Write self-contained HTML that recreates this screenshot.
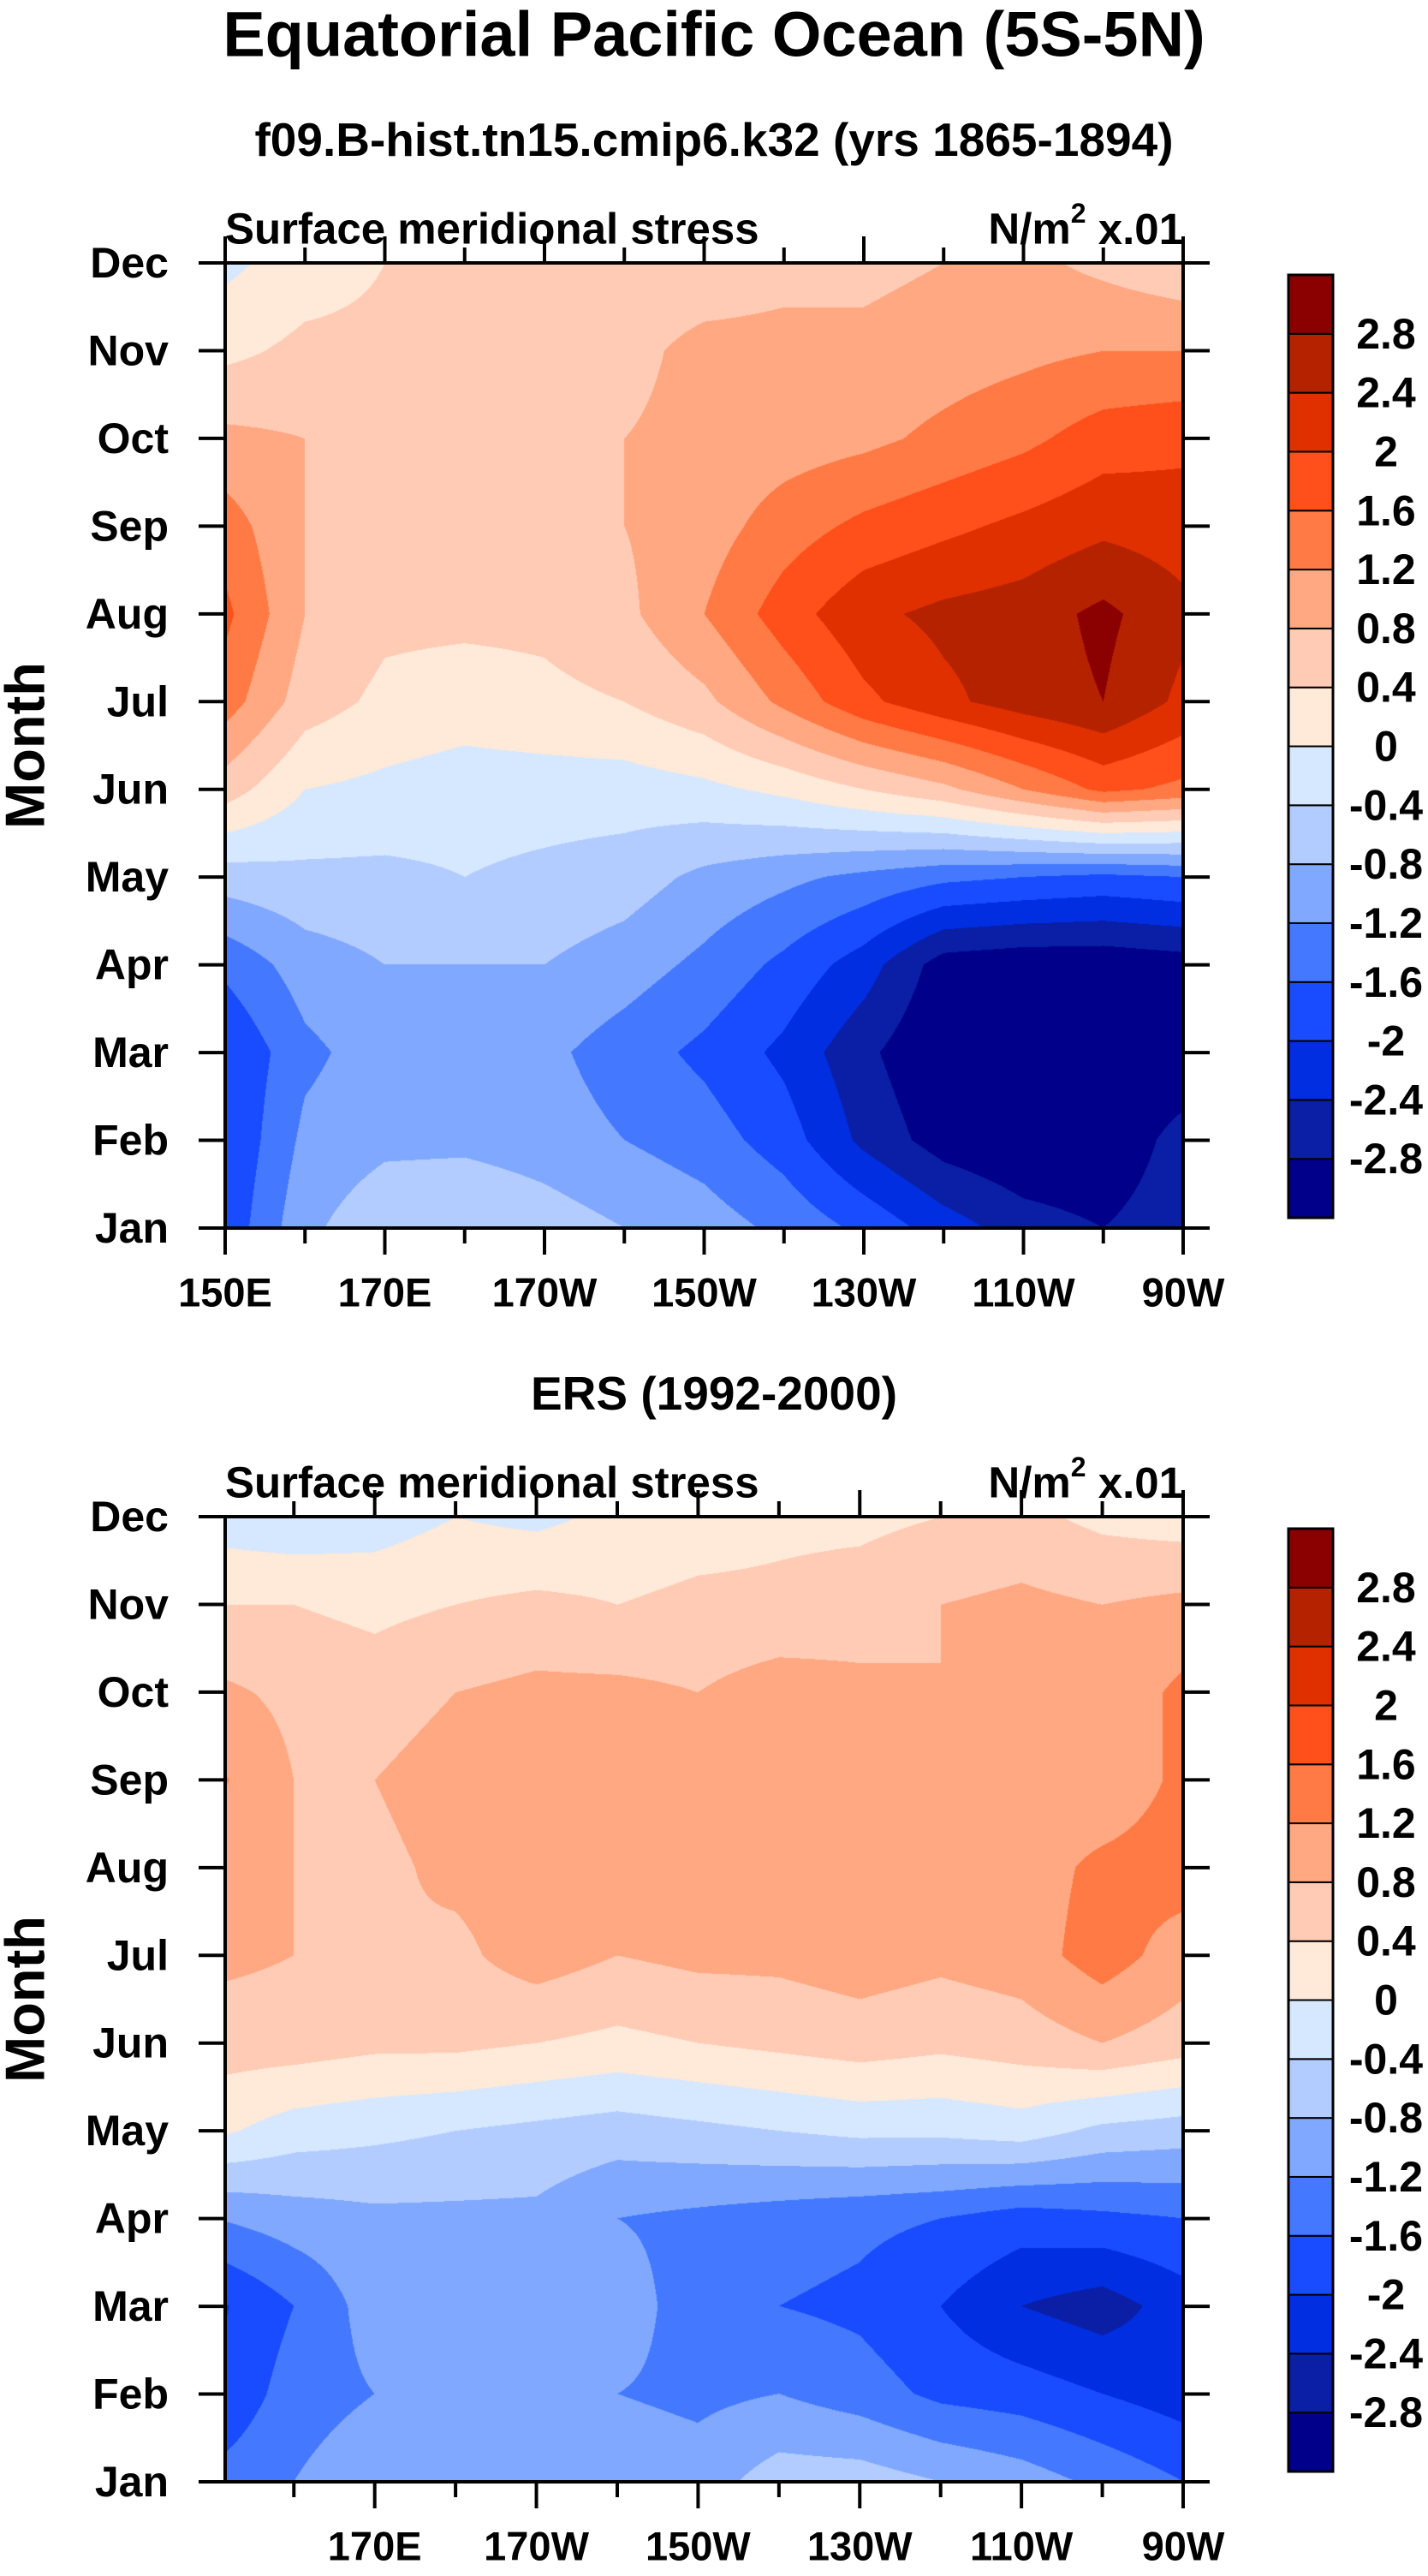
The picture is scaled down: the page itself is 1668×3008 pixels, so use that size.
<!DOCTYPE html>
<html><head><meta charset="utf-8">
<style>
html,body{margin:0;padding:0;background:#fff;}
body{width:1668px;height:3008px;position:relative;overflow:hidden;font-family:"Liberation Sans",sans-serif;}
canvas{position:absolute;}
svg{position:absolute;left:0;top:0;}
</style></head>
<body>
<canvas id="c1" width="1119" height="1127" style="left:263px;top:307px"></canvas>
<canvas id="c2" width="1119" height="1127" style="left:263px;top:1771px"></canvas>
<svg id="s" width="1668" height="3008"></svg>
<script>
const months=["Jan","Feb","Mar","Apr","May","Jun","Jul","Aug","Sep","Oct","Nov","Dec"];
const lons=[150,160,170,180,190,200,210,220,230,240,250,260,270];
const levels=[-2.8,-2.4,-2,-1.6,-1.2,-0.8,-0.4,0,0.4,0.8,1.2,1.6,2,2.4,2.8];
const levelLabels=["-2.8","-2.4","-2","-1.6","-1.2","-0.8","-0.4","0","0.4","0.8","1.2","1.6","2","2.4","2.8"];
const colors=["#00008a","#0a1fa5","#002ee0","#1a4cff","#4479ff","#80a8ff","#b3ccff","#d6e8ff","#ffe9d8","#ffcbb5","#ffa882","#ff7a45","#ff4f1a","#e03000","#b52200","#8b0000"];
const model=[
[-1.9,-0.9,-0.5,-0.4,-0.6,-0.8,-1.0,-1.3,-1.7,-2.2,-2.6,-2.8,-2.5],
[-2.0,-1.1,-0.9,-0.9,-1.0,-1.2,-1.4,-1.8,-2.5,-3.0,-3.2,-3.2,-2.6],
[-2.0,-1.3,-1.0,-1.0,-1.1,-1.4,-1.7,-2.1,-2.7,-3.2,-3.3,-3.3,-3.2],
[-1.5,-1.0,-0.8,-0.8,-0.8,-1.0,-1.3,-1.7,-2.2,-3.0,-3.1,-3.1,-3.0],
[-0.6,-0.5,-0.5,-0.4,-0.5,-0.6,-0.9,-1.1,-1.3,-1.5,-1.6,-1.7,-1.6],
[0.6,0.0,-0.1,-0.2,-0.2,-0.2,-0.1,0.1,0.4,0.7,1.2,1.7,1.5],
[1.4,0.6,0.3,0.2,0.3,0.4,0.7,1.3,1.9,2.3,2.6,2.8,2.3],
[1.7,0.8,0.5,0.5,0.5,0.7,1.2,1.8,2.3,2.5,2.6,2.9,2.5],
[1.4,0.8,0.6,0.6,0.7,0.8,1.0,1.4,1.7,1.9,2.1,2.3,2.2],
[0.9,0.8,0.6,0.6,0.7,0.8,0.9,1.0,1.1,1.3,1.5,1.8,1.9],
[0.3,0.5,0.5,0.5,0.6,0.7,0.9,0.9,0.9,1.0,1.1,1.2,1.2],
[-0.1,0.2,0.4,0.5,0.6,0.6,0.6,0.7,0.7,0.8,0.9,0.7,0.5]];
const ers=[
[-1.5,-1.2,-0.9,-0.8,-0.9,-0.9,-1.0,-0.6,-0.6,-0.8,-1.0,-1.3,-1.6],
[-2.0,-1.4,-1.2,-1.0,-1.1,-1.2,-1.3,-1.2,-1.4,-1.7,-1.8,-2.0,-2.2],
[-2.1,-1.6,-1.0,-1.2,-1.1,-1.0,-1.4,-1.6,-1.7,-2.0,-2.4,-2.6,-2.2],
[-1.2,-1.0,-0.9,-0.9,-0.9,-1.2,-1.3,-1.4,-1.5,-1.6,-1.8,-1.7,-1.6],
[0.1,-0.2,-0.3,-0.4,-0.5,-0.6,-0.5,-0.4,-0.3,-0.3,-0.2,-0.5,-0.6],
[0.6,0.6,0.5,0.5,0.4,0.3,0.4,0.5,0.6,0.5,0.6,0.8,0.6],
[0.9,0.8,0.8,0.7,1.0,0.8,0.9,0.9,1.0,0.9,1.0,1.4,1.0],
[1.0,0.8,0.7,0.9,1.0,0.9,1.0,1.0,0.9,1.0,1.0,1.3,1.4],
[1.3,0.8,0.8,1.0,1.0,0.9,1.0,1.0,1.1,0.9,1.0,0.9,1.3],
[0.9,0.7,0.6,0.8,0.9,0.9,0.8,1.0,0.9,0.8,0.8,0.9,1.3],
[0.4,0.4,0.3,0.4,0.5,0.4,0.5,0.5,0.6,0.8,0.9,0.8,0.9],
[-0.2,-0.3,-0.2,0.0,-0.1,0.1,0.2,0.3,0.3,0.4,0.5,0.3,0.2]];
const ticks1=[150,170,190,210,230,250,270];
const tickLabels1=["150E","170E","170W","150W","130W","110W","90W"];
const ticks2=[170,190,210,230,250,270];
const tickLabels2=["170E","170W","150W","130W","110W","90W"];

const L=263,R=1382,W=R-L,H=1127;
const NS="http://www.w3.org/2000/svg";
const svg=document.getElementById('s');
function el(tag,attrs,parent){const e=document.createElementNS(NS,tag);for(const k in attrs)e.setAttribute(k,attrs[k]);(parent||svg).appendChild(e);return e;}
function hex(c){return [parseInt(c.slice(1,3),16),parseInt(c.slice(3,5),16),parseInt(c.slice(5,7),16)];}
const rgb=colors.map(hex);
function bin(v){let i=0;while(i<levels.length&&v>=levels[i])i++;return i;}

function drawField(id,data,lon0,lon1){
  const cv=document.getElementById(id),ctx=cv.getContext('2d');
  const img=ctx.createImageData(W,H);
  const nL=lons.length,nM=months.length;
  for(let py=0;py<H;py++){
    const m=(H-1-py)/(H-1)*(nM-1);
    const mi=Math.min(nM-2,Math.floor(m)),mf=m-mi;
    for(let px=0;px<W;px++){
      const lon=lon0+(px+0.5)/W*(lon1-lon0);
      let g=(lon-lons[0])/(lons[1]-lons[0]);
      g=Math.max(0,Math.min(nL-1,g));
      const li=Math.min(nL-2,Math.floor(g)),lf=g-li;
      const v=(data[mi][li]*(1-lf)+data[mi][li+1]*lf)*(1-mf)+(data[mi+1][li]*(1-lf)+data[mi+1][li+1]*lf)*mf;
      const c=rgb[bin(v)],o=(py*W+px)*4;
      img.data[o]=c[0];img.data[o+1]=c[1];img.data[o+2]=c[2];img.data[o+3]=255;
    }
  }
  ctx.putImageData(img,0,0);
}

function text(str,x,y,size,anchor,name,extra){
  const t=el('text',Object.assign({x:x,y:y,'font-size':size,'font-weight':'bold','text-anchor':anchor||'start','dominant-baseline':'central','font-family':'Liberation Sans, sans-serif'},extra||{}));
  t.textContent=str;
  
  
  return t;
}

function drawAxes(top,lon0,lon1,ticks,tlabels,prefix){
  const xs=l=>L+(l-lon0)/(lon1-lon0)*W;
  const ys=i=>top+H-i*H/(months.length-1);
  const g=el('g',{});
  
  
  el('rect',{x:L,y:top,width:W,height:H,fill:'none',stroke:'#000','stroke-width':4},g);
  months.forEach((m,i)=>{
    const y=ys(i);
    el('line',{x1:L-31,y1:y,x2:L,y2:y,stroke:'#000','stroke-width':4},g);
    el('line',{x1:R,y1:y,x2:R+31,y2:y,stroke:'#000','stroke-width':4},g);
    text(m,197,y,50,'end',prefix+'-month-label');
  });
  for(let l=150;l<=270;l+=10){
    if(l<lon0-0.01)continue;
    const major=ticks.indexOf(l)>=0;
    const len=major?31:18,x=xs(l);
    el('line',{x1:x,y1:top,x2:x,y2:top-len,stroke:'#000','stroke-width':4},g);
    el('line',{x1:x,y1:top+H,x2:x,y2:top+H+len,stroke:'#000','stroke-width':4},g);
  }
  ticks.forEach((l,i)=>text(tlabels[i],xs(l),top+H+75,47,'middle',prefix+'-x-tick-label'));
  text('Surface meridional stress',L,top-40,51,'start',prefix+'-left-title');
  const u=text('N/m',1382,top-40,51,'end',prefix+'-units');
  u.innerHTML='N/m<tspan dy="-18" font-size="32">2</tspan><tspan dy="18"> x.01</tspan>';
  text('Month',29,top+H/2,65,'middle',prefix+'-y-axis-title',{transform:'rotate(-90 29 '+(top+H/2)+')'});
  const cb=el('g',{});
  
  
  const cbT=top+14,cbH=1101,n=colors.length,bh=cbH/n;
  colors.forEach((c,i)=>{
    el('rect',{x:1505,y:cbT+cbH-(i+1)*bh,width:52,height:bh,fill:c,stroke:'#000','stroke-width':2},cb);
  });
  el('rect',{x:1505,y:cbT,width:52,height:cbH,fill:'none',stroke:'#000','stroke-width':3},cb);
  levels.forEach((v,i)=>text(levelLabels[i],1619,cbT+cbH-(i+1)*bh,50,'middle',prefix+'-colorbar-label'));
}

drawField('c1',model,150,270);
drawField('c2',ers,151.5,270);
text('Equatorial Pacific Ocean (5S-5N)',834,40,74,'middle','main-title');
text('f09.B-hist.tn15.cmip6.k32 (yrs 1865-1894)',834,163,55,'middle','model-subtitle');
text('ERS (1992-2000)',834,1627,55,'middle','ers-subtitle');
drawAxes(307,150,270,ticks1,tickLabels1,'model');
drawAxes(1771,151.5,270,ticks2,tickLabels2,'ers');
</script>
</body></html>
